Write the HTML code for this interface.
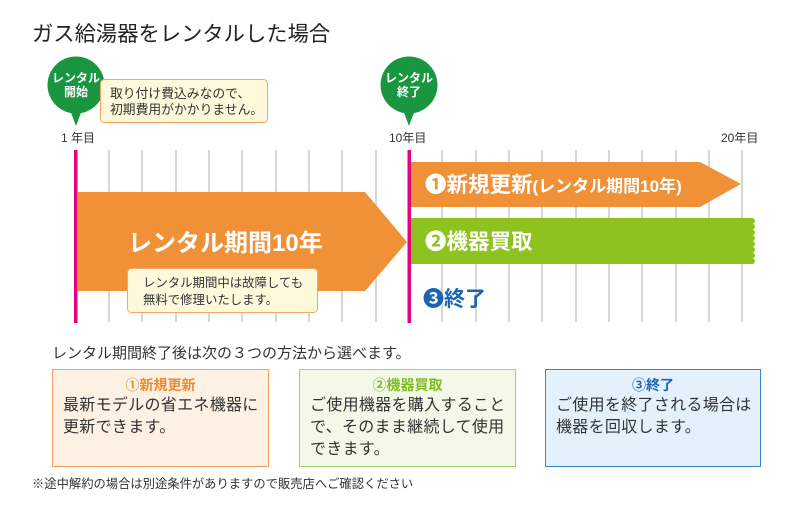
<!DOCTYPE html>
<html><head><meta charset="utf-8"><style>
body{margin:0;width:799px;height:507px;background:#fff;overflow:hidden;font-family:"Liberation Sans","Noto Sans CJK JP",sans-serif;}
svg{position:absolute;left:0;top:0}
.box{position:absolute;top:369px;height:98px;box-sizing:border-box;border:1px solid;font-size:16px;line-height:22px;color:#333;padding:5px 0 0 10px;letter-spacing:0.3px;white-space:nowrap}
.box .h{text-align:center;font-weight:bold;font-size:14px;line-height:20px;letter-spacing:0;margin-left:-10px}
</style></head><body>
<svg width="799" height="507" xmlns="http://www.w3.org/2000/svg" font-family="Liberation Sans, Noto Sans CJK JP, sans-serif">
<text x="32" y="41" font-size="21.3" fill="#222">ガス給湯器をレンタルした場合</text>
<g stroke="#c8c8c8" stroke-width="1.5">
<line x1="109" y1="150" x2="109" y2="322"/><line x1="142" y1="150" x2="142" y2="322"/><line x1="176" y1="150" x2="176" y2="322"/><line x1="209" y1="150" x2="209" y2="322"/><line x1="242" y1="150" x2="242" y2="322"/><line x1="276" y1="150" x2="276" y2="322"/><line x1="309" y1="150" x2="309" y2="322"/><line x1="342" y1="150" x2="342" y2="322"/><line x1="376" y1="150" x2="376" y2="322"/>
<line x1="442" y1="150" x2="442" y2="322"/><line x1="476" y1="150" x2="476" y2="322"/><line x1="509" y1="150" x2="509" y2="322"/><line x1="542" y1="150" x2="542" y2="322"/><line x1="576" y1="150" x2="576" y2="322"/><line x1="609" y1="150" x2="609" y2="322"/><line x1="642" y1="150" x2="642" y2="322"/><line x1="676" y1="150" x2="676" y2="322"/><line x1="709" y1="150" x2="709" y2="322"/><line x1="742" y1="150" x2="742" y2="322"/>
</g>
<polygon points="78,192 365,192 407,242 365,291 78,291" fill="#f09138"/>
<text x="128" y="251" font-size="24" font-weight="bold" fill="#fff">レンタル期間10年</text>
<polygon points="410,162 700,162 741,184 700,207 410,207" fill="#f09138"/>
<text x="425" y="192" font-size="21.5" font-weight="bold" fill="#fff">❶新規更新<tspan font-size="17">(レンタル期間10年)</tspan></text>
<path d="M410,218 L753,218 q4,3 0,5.75 q4,3 0,5.75 q4,3 0,5.75 q4,3 0,5.75 q4,3 0,5.75 q4,3 0,5.75 q4,3 0,5.75 q4,3 0,5.75 L410,264 Z" fill="#8dc21f"/>
<text x="425" y="249" font-size="21.5" font-weight="bold" fill="#fff">❷機器買取</text>
<text x="423" y="306" font-size="21" font-weight="bold" fill="#1a64b4">❸終了</text>
<rect x="74" y="150" width="3.5" height="173" fill="#e4007f"/>
<rect x="407.5" y="150" width="3.5" height="173" fill="#e4007f"/>
<circle cx="76" cy="85" r="28.5" fill="#1a9641"/><polygon points="70,110 82,110 76,126" fill="#1a9641"/>
<text x="76" y="82" font-size="12" font-weight="bold" fill="#fff" text-anchor="middle">レンタル</text>
<text x="76" y="96" font-size="12" font-weight="bold" fill="#fff" text-anchor="middle">開始</text>
<circle cx="409" cy="85" r="28.5" fill="#1a9641"/><polygon points="403,110 415,110 409,126" fill="#1a9641"/>
<text x="409" y="82" font-size="12" font-weight="bold" fill="#fff" text-anchor="middle">レンタル</text>
<text x="409" y="96" font-size="12" font-weight="bold" fill="#fff" text-anchor="middle">終了</text>
<text x="61" y="142" font-size="12" fill="#333">1 年目</text>
<text x="389" y="142" font-size="12" fill="#333">10年目</text>
<text x="721" y="142" font-size="12" fill="#333">20年目</text>
<rect x="100.5" y="79.5" width="167" height="43" rx="4" fill="#fff9dc" stroke="#f0a868"/>
<text x="110" y="98" font-size="12.8" fill="#333">取り付け費込みなので、</text>
<text x="110" y="114" font-size="12.8" fill="#333">初期費用がかかりません。</text>
<rect x="127.5" y="268.5" width="190" height="44" rx="4" fill="#fff9dc" stroke="#f0a868"/>
<text x="143" y="287" font-size="12.4" fill="#333">レンタル期間中は故障しても</text>
<text x="143" y="304" font-size="12.4" fill="#333">無料で修理いたします。</text>
<text x="52" y="358" font-size="15" fill="#333">レンタル期間終了後は次の３つの方法から選べます。</text>
<text x="32" y="488" font-size="12.3" fill="#333">※途中解約の場合は別途条件がありますので販売店へご確認ください</text>
</svg>
<div class="box" style="left:52px;width:217px;border-color:#f0a060;background:#fdf1e4"><div class="h" style="color:#f08a30">①新規更新</div>最新モデルの省エネ機器に<br>更新できます。</div>
<div class="box" style="left:299px;width:217px;border-color:#a8d068;background:#f3f9e8"><div class="h" style="color:#80bb20">②機器買取</div>ご使用機器を購入すること<br>で、そのまま継続して使用<br>できます。</div>
<div class="box" style="left:545px;width:216px;border-color:#3a84c8;background:#e4f1fb"><div class="h" style="color:#1a64b4">③終了</div>ご使用を終了される場合は<br>機器を回収します。</div>
</body></html>
